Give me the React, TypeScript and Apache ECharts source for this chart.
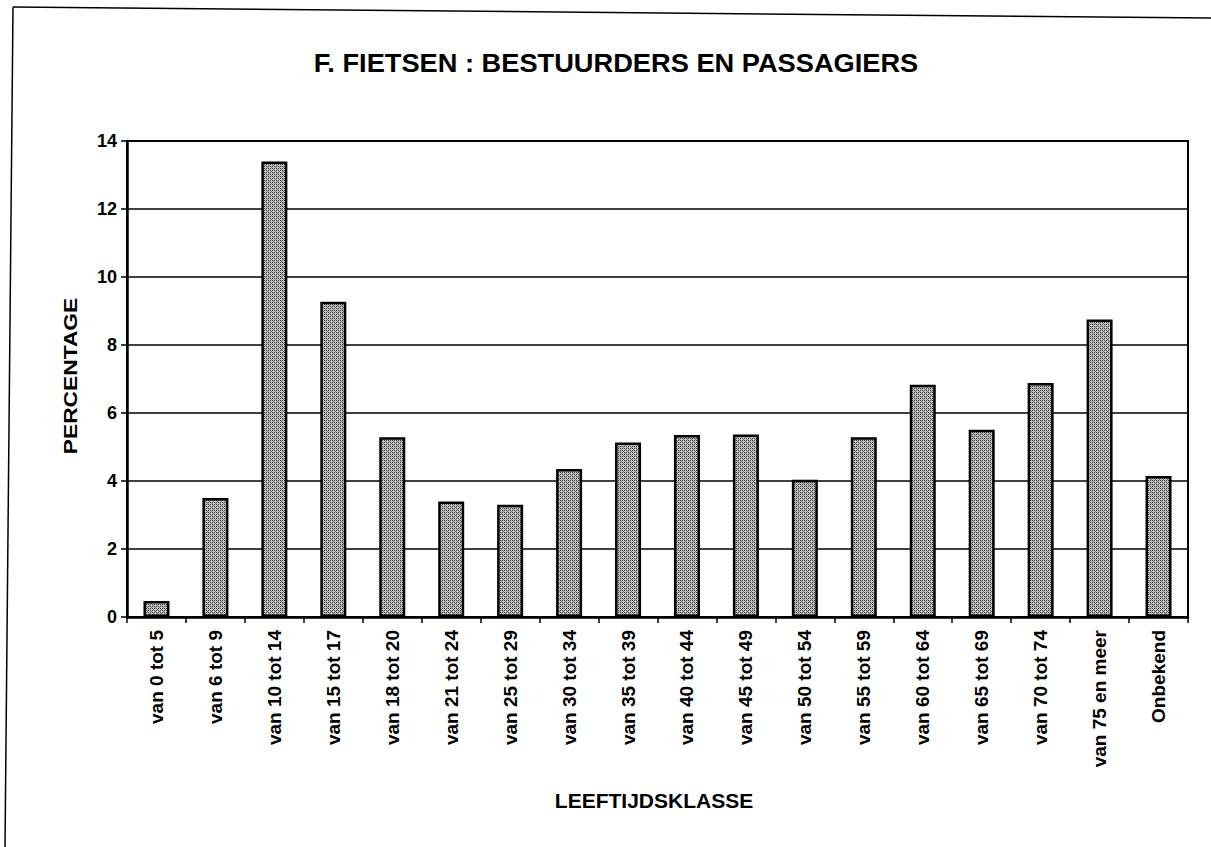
import React, { useEffect, useRef } from "react";
import * as echarts from "echarts";

const categories = [
  "van 0 tot 5", "van 6 tot 9", "van 10 tot 14", "van 15 tot 17", "van 18 tot 20",
  "van 21 tot 24", "van 25 tot 29", "van 30 tot 34", "van 35 tot 39", "van 40 tot 44",
  "van 45 tot 49", "van 50 tot 54", "van 55 tot 59", "van 60 tot 64", "van 65 tot 69",
  "van 70 tot 74", "van 75 en meer", "Onbekend",
];
const percentages = [
  0.47, 3.5, 13.4, 9.27, 5.29, 3.4, 3.3, 4.35, 5.13, 5.35, 5.37, 4.04, 5.29, 6.83, 5.51, 6.88, 8.75, 4.15,
];
const yTicks = { min: 0, max: 14, interval: 2 };
const titleText = "F. FIETSEN : BESTUURDERS EN PASSAGIERS";
const xName = "LEEFTIJDSKLASSE";
const yName = "PERCENTAGE";

function makePattern(): HTMLCanvasElement {
  const c = document.createElement("canvas");
  c.width = 4;
  c.height = 4;
  const ctx = c.getContext("2d")!;
  ctx.fillStyle = "#c4c4c4";
  ctx.fillRect(0, 0, 4, 4);
  ctx.fillStyle = "#3a3a3a";
  ctx.fillRect(0, 0, 1, 1);
  ctx.fillRect(2, 2, 1, 1);
  ctx.fillRect(2, 0, 1, 1);
  ctx.fillRect(0, 2, 1, 1);
  ctx.fillStyle = "#777777";
  ctx.fillRect(1, 1, 1, 1);
  ctx.fillRect(3, 3, 1, 1);
  return c;
}

export default function App() {
  const ref = useRef<HTMLDivElement>(null);
  useEffect(() => {
    if (!ref.current) return;
    const chart = echarts.init(ref.current, undefined, { renderer: "svg" });
    const font = "'Liberation Sans', Arial, sans-serif";
    chart.setOption({
      animation: false,
      backgroundColor: "#ffffff",
      textStyle: { fontFamily: font, color: "#000" },
      graphic: [
        {
          type: "line",
          shape: { x1: 13, y1: 7, x2: 1211, y2: 18 },
          style: { stroke: "#000", lineWidth: 1.5 },
          silent: true,
        },
        {
          type: "line",
          shape: { x1: 13, y1: 7, x2: 5, y2: 847 },
          style: { stroke: "#000", lineWidth: 1.5 },
          silent: true,
        },
        {
          type: "text",
          x: 616,
          y: 63,
          scaleX: 1.09,
          style: {
            text: titleText,
            fontFamily: font,
            fontSize: 25,
            fontWeight: "bold",
            fill: "#000",
            align: "center",
            verticalAlign: "middle",
          },
        },
        {
          type: "text",
          x: 70,
          y: 376,
          rotation: Math.PI / 2,
          scaleX: 1.2,
          style: {
            text: yName,
            fontFamily: font,
            fontSize: 19,
            fontWeight: "bold",
            fill: "#000",
            align: "center",
            verticalAlign: "middle",
          },
        },
        {
          type: "text",
          x: 654,
          y: 800,
          style: {
            text: xName,
            fontFamily: font,
            fontSize: 21,
            fontWeight: "bold",
            fill: "#000",
            align: "center",
            verticalAlign: "middle",
          },
        },
      ],
      grid: {
        left: 127,
        right: 23,
        top: 141,
        bottom: 230,
        show: true,
        borderColor: "#000",
        borderWidth: 2,
        backgroundColor: "transparent",
      },
      xAxis: {
        type: "category",
        data: categories,
        boundaryGap: true,
        axisLine: { show: true, lineStyle: { color: "#000", width: 2.5 } },
        axisTick: { show: true, alignWithLabel: false, length: 6, lineStyle: { color: "#000", width: 1.5 } },
        axisLabel: {
          rotate: 90,
          interval: 0,
          margin: 13,
          fontFamily: font,
          fontSize: 19,
          fontWeight: "bold",
          color: "#000",
        },
      },
      yAxis: {
        type: "value",
        min: yTicks.min,
        max: yTicks.max,
        interval: yTicks.interval,
        axisLine: { show: true, lineStyle: { color: "#000", width: 2.5 } },
        axisTick: { show: true, inside: false, length: 6, lineStyle: { color: "#000", width: 1.5 } },
        axisLabel: { fontFamily: font, fontSize: 18, fontWeight: "bold", color: "#000", margin: 10 },
        splitLine: { show: true, lineStyle: { color: "#000", width: 1.5 } },
      },
      series: [
        {
          type: "bar",
          data: percentages,
          barWidth: 26,
          itemStyle: {
            color: { image: makePattern(), repeat: "repeat" },
            borderColor: "#000",
            borderWidth: 2.5,
          },
        },
      ],
    });
    return () => chart.dispose();
  }, []);
  return (
    <div
      ref={ref}
      style={{ position: "absolute", left: 0, top: 0, width: 1211, height: 847 }}
    />
  );
}
